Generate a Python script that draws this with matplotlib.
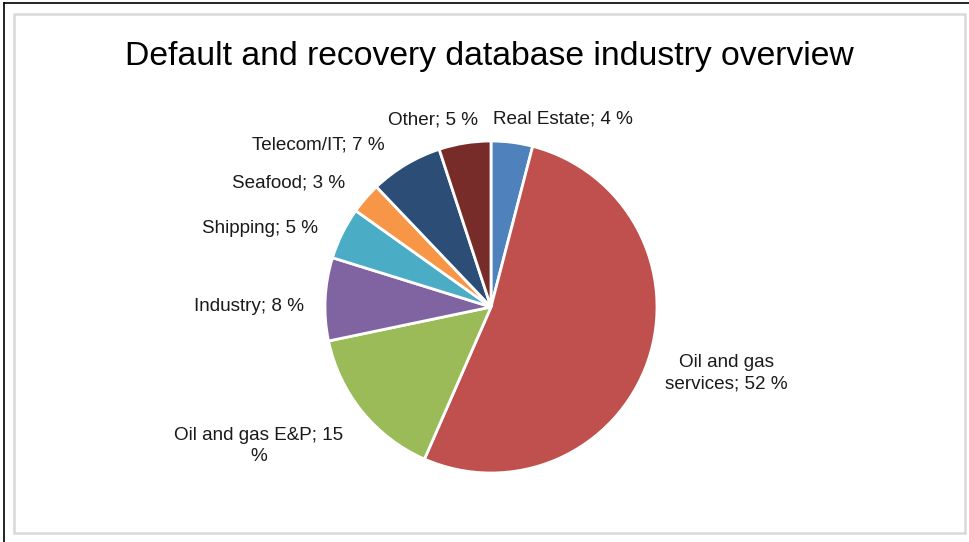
import matplotlib
matplotlib.use("Agg")
import matplotlib.pyplot as plt
from matplotlib.patches import Rectangle
from matplotlib.lines import Line2D

plt.rcParams['font.family'] = ['Liberation Sans', 'DejaVu Sans']

categories = ["Real Estate", "Oil and gas services", "Oil and gas E&P", "Industry",
              "Shipping", "Seafood", "Telecom/IT", "Other"]
shares = [4, 52, 15, 8, 5, 3, 7, 5]
colors = ["#4F81BD", "#C0504D", "#9BBB59", "#8064A2",
          "#4BACC6", "#F79646", "#2C4D75", "#772C2A"]
label_texts = ["Real Estate; 4 %", "Oil and gas\nservices; 52 %", "Oil and gas E&P; 15\n%",
               "Industry; 8 %", "Shipping; 5 %", "Seafood; 3 %", "Telecom/IT; 7 %", "Other; 5 %"]
# label anchor points in pie units (radius = 1)
label_pos = [(0.434, 1.133), (1.416, -0.40), (-1.398, -0.835), (-1.46, 0.006),
             (-1.39, 0.47), (-1.22, 0.747), (-1.042, 0.975), (-0.35, 1.127)]

W, H = 970, 542
fig = plt.figure(figsize=(W / 100, H / 100), dpi=100)

# outer frame
fig.add_artist(Line2D([4 / W, 4 / W], [0, 1 - 3 / H], color="black", lw=1.2, transform=fig.transFigure))
fig.add_artist(Line2D([4 / W, 1], [1 - 3 / H, 1 - 3 / H], color="black", lw=1.2, transform=fig.transFigure))
fig.add_artist(Rectangle((14 / W, 1 - 533 / H), (965 - 14) / W, (533 - 14) / H,
                         fill=False, edgecolor="#D9D9D9", lw=1.8, transform=fig.transFigure))

cx, cy, r = 491, 307, 166
ax = fig.add_axes([(cx - r) / W, (H - cy - r) / H, 2 * r / W, 2 * r / H])
ax.pie(shares, colors=colors, startangle=90, counterclock=False,
       wedgeprops=dict(edgecolor="white", linewidth=2))
ax.set_xlim(-1, 1)
ax.set_ylim(-1, 1)
ax.set_aspect("auto")
ax.axis("off")

for txt, (lx, ly) in zip(label_texts, label_pos):
    ax.text(lx, ly, txt, ha="center", va="center", fontsize=13.6, color="#1a1a1a",
            linespacing=1.3, clip_on=False)

fig.text(489 / W, 1 - 57 / H, "Default and recovery database industry overview",
         ha="center", va="center", fontsize=24.3, color="black")

fig.savefig("out.png", dpi=100, facecolor="white")
